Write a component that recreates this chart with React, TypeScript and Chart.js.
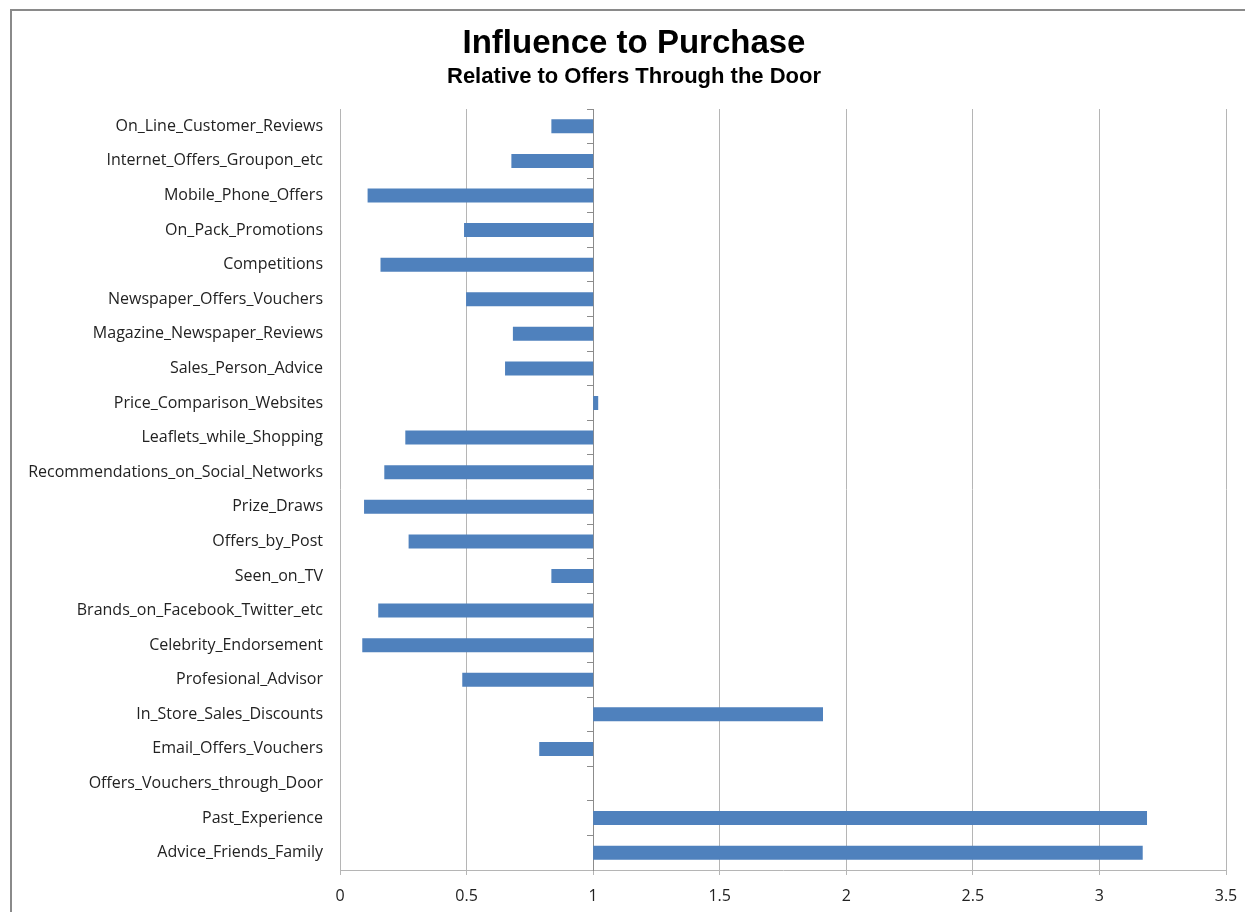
import React, { useEffect, useRef } from "react";
import { Chart, registerables } from "chart.js";
Chart.register(...registerables);

const titleText = "Influence to Purchase";
const subtitleText = "Relative to Offers Through the Door";

const categories = [
  "On_Line_Customer_Reviews",
  "Internet_Offers_Groupon_etc",
  "Mobile_Phone_Offers",
  "On_Pack_Promotions",
  "Competitions",
  "Newspaper_Offers_Vouchers",
  "Magazine_Newspaper_Reviews",
  "Sales_Person_Advice",
  "Price_Comparison_Websites",
  "Leaflets_while_Shopping",
  "Recommendations_on_Social_Networks",
  "Prize_Draws",
  "Offers_by_Post",
  "Seen_on_TV",
  "Brands_on_Facebook_Twitter_etc",
  "Celebrity_Endorsement",
  "Profesional_Advisor",
  "In_Store_Sales_Discounts",
  "Email_Offers_Vouchers",
  "Offers_Vouchers_through_Door",
  "Past_Experience",
  "Advice_Friends_Family",
];

const influence = [
  0.835, 0.677, 0.109, 0.49, 0.16, 0.498, 0.683, 0.652, 1.02, 0.258, 0.175,
  0.095, 0.271, 0.835, 0.151, 0.088, 0.483, 1.908, 0.787, 1.0, 3.188, 3.171,
];

const baseline = 1;
const xMin = 0;
const xMax = 3.5;
const xStep = 0.5;

export default function App() {
  const ref = useRef<HTMLCanvasElement | null>(null);

  useEffect(() => {
    if (!ref.current) return;
    const labelFont = { family: "Open Sans", size: 16 };
    const chart = new Chart(ref.current, {
      type: "bar",
      data: {
        labels: categories,
        datasets: [
          {
            label: "Influence",
            data: influence.map((v) => [baseline, v]) as any,
            backgroundColor: "#4F81BD",
            borderWidth: 0,
            barPercentage: 0.405,
            categoryPercentage: 1,
            yAxisID: "y",
          },
        ],
      },
      options: {
        indexAxis: "y",
        animation: false,
        responsive: false,
        layout: { padding: { left: 42, right: 19, top: 0, bottom: 0 } },
        plugins: {
          legend: { display: false },
          tooltip: { enabled: false },
          title: {
            display: true,
            text: titleText,
            color: "#000",
            font: { family: "Liberation Sans", size: 33, weight: "bold" },
            padding: { top: 24, bottom: 0 },
          },
          subtitle: {
            display: true,
            text: subtitleText,
            color: "#000",
            font: { family: "Liberation Sans", size: 22, weight: "bold" },
            padding: { top: 0, bottom: 19 },
          },
        },
        scales: {
          x: {
            type: "linear",
            min: xMin,
            max: xMax,
            ticks: {
              stepSize: xStep,
              color: "#222",
              font: labelFont,
              padding: 12,
              callback: (v: any) => String(Number(v)),
            },
            grid: {
              color: "#b5b5b5",
              lineWidth: 1,
              drawTicks: true,
              tickLength: 5,
            },
            border: { display: true, color: "#b5b5b5" },
            afterFit: (s: any) => {
              s.height = 42;
              s.paddingRight = 19;
            },
          },
          y: {
            type: "category",
            position: "left",
            ticks: { color: "#222", font: labelFont, padding: 17 },
            grid: { display: false, drawTicks: false },
            border: { display: false },
            afterFit: (s: any) => {
              s.width = 298;
              // let long category labels extend past the scale box
              s._computeLabelArea = () => undefined;
            },
          },
          y2: {
            type: "category",
            position: { x: baseline } as any,
            offset: true,
            ticks: { display: false },
            grid: {
              offset: true,
              drawOnChartArea: false,
              drawTicks: true,
              tickLength: 6,
              color: "#8c8c8c",
            },
            border: { display: true, color: "#8c8c8c" },
          },
        },
      } as any,
    });
    return () => chart.destroy();
  }, []);

  return (
    <div
      style={{
        position: "fixed",
        left: 0,
        top: 0,
        width: 1245,
        height: 912,
        background: "#fff",
        overflow: "hidden",
      }}
    >
      <div
        style={{
          position: "absolute",
          left: 10,
          top: 9,
          width: 1400,
          height: 1100,
          borderTop: "2px solid #8a8a8a",
          borderLeft: "2px solid #8a8a8a",
        }}
      />
      <canvas
        ref={ref}
        width={1245}
        height={912}
        style={{ position: "absolute", left: 0, top: 0, width: 1245, height: 912 }}
      />
    </div>
  );
}
